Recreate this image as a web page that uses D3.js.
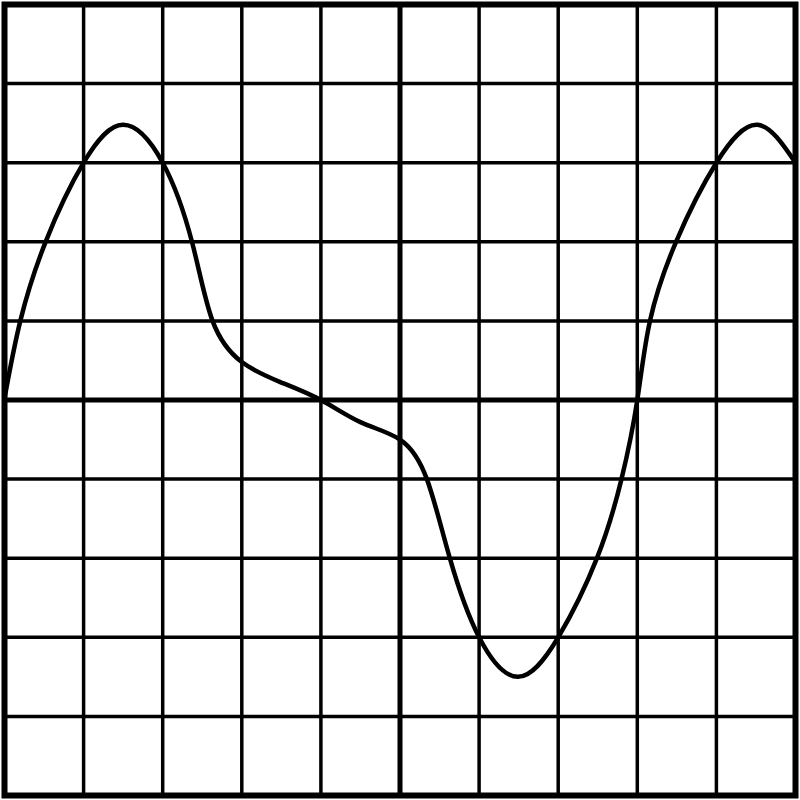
<!DOCTYPE html>
<html>
<head>
<meta charset="utf-8">
<script src="https://cdn.jsdelivr.net/npm/d3@7"></script>
<style>
  body { margin: 0; background: #fff; }
  svg { display: block; }
</style>
</head>
<body>
<svg width="800" height="800"></svg>
<script>
// grid divisions (10 x 10), y runs -5..5
var gridX = [0, 1, 2, 3, 4, 5, 6, 7, 8, 9, 10];
var gridY = [-5, -4, -3, -2, -1, 0, 1, 2, 3, 4, 5];

// waveform, in grid units
var waveX = [0, 0.2, 0.52, 1, 1.5, 2, 2.37, 2.63, 3, 3.48, 4, 4.5, 5, 5.34, 5.63, 6, 6.49, 7, 7.49, 7.8, 8, 8.16, 8.49, 9, 9.52, 10];
var waveY = [0.02, 1, 2, 3, 3.48, 3, 2, 1, 0.48, 0.23, 0, -0.28, -0.5, -1, -2, -3, -3.5, -3, -2, -1, 0, 1, 2, 3, 3.48, 3];

var svg = d3.select("svg");

var x = d3.scaleLinear().domain([0, 10]).range([4.5, 795.5]);
var y = d3.scaleLinear().domain([-5, 5]).range([795.5, 4.5]);

// Thin grid lines first, then the center lines and border on top.
var grid = svg.append("g").attr("stroke", "#000").attr("fill", "none");

grid.selectAll("line.v")
  .data(gridX.filter(function (d) { return d !== 0 && d !== 10; }))
  .enter().append("line")
  .attr("class", "v")
  .attr("x1", function (d) { return x(d); })
  .attr("x2", function (d) { return x(d); })
  .attr("y1", y(5))
  .attr("y2", y(-5))
  .attr("stroke-width", function (d) { return d === 5 ? 5 : 3.5; });

grid.selectAll("line.h")
  .data(gridY.filter(function (d) { return d !== -5 && d !== 5; }))
  .enter().append("line")
  .attr("class", "h")
  .attr("x1", x(0))
  .attr("x2", x(10))
  .attr("y1", function (d) { return y(d); })
  .attr("y2", function (d) { return y(d); })
  .attr("stroke-width", function (d) { return d === 0 ? 5 : 3.5; });

grid.append("rect")
  .attr("x", x(0))
  .attr("y", y(5))
  .attr("width", x(10) - x(0))
  .attr("height", y(-5) - y(5))
  .attr("stroke-width", 6);

var points = waveX.map(function (d, i) { return [d, waveY[i]]; });

var line = d3.line()
  .x(function (d) { return x(d[0]); })
  .y(function (d) { return y(d[1]); })
  .curve(d3.curveNatural);

svg.append("path")
  .datum(points)
  .attr("d", line)
  .attr("fill", "none")
  .attr("stroke", "#000")
  .attr("stroke-width", 4.5)
  .attr("stroke-linejoin", "round");
</script>
</body>
</html>
